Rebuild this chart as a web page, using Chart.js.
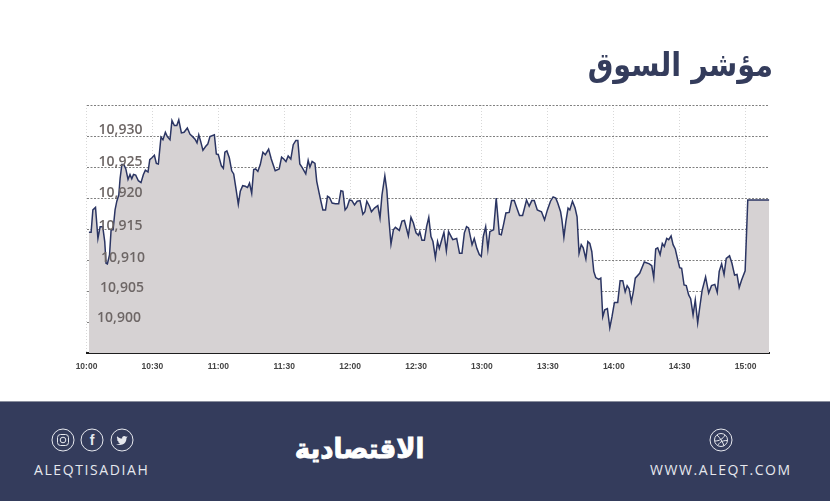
<!DOCTYPE html>
<html lang="ar"><head><meta charset="utf-8">
<script src="https://cdn.jsdelivr.net/npm/chart.js@4"></script>
<style>
html,body{margin:0;padding:0;background:#fff;}
#wrap{position:relative;width:830px;height:501px;overflow:hidden;background:#fff;}
canvas{position:absolute;left:0;top:0;}
#title{position:absolute;right:57px;top:45px;font:bold 33px "DejaVu Sans";color:#343c5c;direction:rtl;white-space:nowrap;transform:scaleX(.87);transform-origin:100% 50%;}
#foot{position:absolute;left:0;top:401px;width:830px;height:100px;background:#343c5c;border-top:1px solid #8a8f9e;box-sizing:border-box;}
.t{position:absolute;top:58px;color:#e6e8ee;font:14px "Open Sans";letter-spacing:1.6px;white-space:nowrap;}
#logo{position:absolute;left:295px;top:31px;width:130px;display:flex;justify-content:center;color:#fff;font:bold 27px "DejaVu Sans";direction:rtl;white-space:nowrap;-webkit-text-stroke:.9px #fff;}
#logo span{display:inline-block;transform:scaleX(.96);}
svg{position:absolute;top:26px;}
</style></head><body>
<div id="wrap">
<canvas id="c" width="830" height="501"></canvas>
<div id="title">مؤشر السوق</div>
<div id="foot">
<svg style="left:51px" width="24" height="24" viewBox="0 0 24 24" fill="none" stroke="#e6e8ee"><circle cx="12" cy="12" r="11"/><rect x="6.5" y="6.5" width="11" height="11" rx="3"/><circle cx="12" cy="12" r="2.8"/></svg>
<svg style="left:80px" width="24" height="24" viewBox="0 0 24 24" fill="none" stroke="#e6e8ee"><circle cx="12" cy="12" r="11"/><text x="12" y="17" text-anchor="middle" font-family="Liberation Sans" font-weight="bold" font-size="14" fill="#e6e8ee" stroke="none">f</text></svg>
<svg style="left:110px" width="24" height="24" viewBox="0 0 24 24" fill="none" stroke="#e6e8ee"><circle cx="12" cy="12" r="11"/><path d="M6 16c5 2.5 10.500 0 10.500-6l1.200-1.500-1.700.3c-1.200-1.800-4.500-.8-3.800 1.700-2 0-3.700-.9-5-2.300-.6 1.200-.3 2.400.8 3.300l-1-.2c0 1.200.8 2 2 2.400l-1 .1c.4.900 1.200 1.400 2.200 1.400-1 .8-2.500 1-4.200.8z" fill="#e6e8ee" stroke="none"/></svg>
<div class="t" style="left:34px">ALEQTISADIAH</div>
<div id="logo"><span>الاقتصادية</span></div>
<svg style="left:709px" width="24" height="24" viewBox="0 0 24 24" fill="none" stroke="#e6e8ee"><circle cx="12" cy="12" r="11"/><circle cx="12" cy="12" r="6.500"/><path d="M8 7c3 3 6 7 7 11M6 13c4 0 8-2 10-6M9 17.500c1-3 4-5 9-5"/></svg>
<div class="t" style="left:650px">WWW.ALEQT.COM</div>
</div>
</div>
<script>
const yTickLabels = ["10,930","10,925","10,920","10,915","10,910","10,905","10,900"];
const yTickValues = [10930,10925,10920,10915,10910,10905,10900];
const xTickLabels = ["10:00","10:30","11:00","11:30","12:00","12:30","13:00","13:30","14:00","14:30","15:00"];
const minutes = [1.1,2.1,2.9,4.1,5.2,6.2,7.4,8.3,8.9,9.5,10.5,11.2,12.1,13,13.8,14.7,15.3,16.1,17,17.9,18.9,19.8,20.6,21.4,22.4,23.6,24.8,25.9,26.8,28,28.8,29.8,30.9,31.8,32.7,33.9,34.8,35.9,36.8,38,38.9,40,41.1,42,43.2,44.4,45.9,47.1,48.3,49.4,50.3,51.1,52,53,54.2,55.2,56.2,58.2,59.1,60,61.4,62.3,63,63.9,65,66.1,67,68,69.1,70,71.1,72.3,73.3,74.2,75.2,76.1,77,78,79.1,80.3,81.4,82.9,84.1,85.9,87.7,88.8,89.8,90.8,91.8,93,94.1,95.3,96.2,97.1,98.2,99.8,100.9,101.7,102.7,104,104.8,105.9,
106.7,107.6,108.8,109.7,110.6,111.8,113.3,114.8,115.8,116.7,117.7,118.6,119.7,120.8,122,123.2,124.5,125.8,126.7,127.6,128.8,129.7,131.1,132.6,133.6,134.5,135.8,136.7,137.6,138.6,139.7,140.6,142.4,143.6,144.7,146.5,147.7,148.8,150,151.1,151.7,152.7,153.8,154.8,155.8,156.8,157.7,158.8,159.8,160.6,161.7,162.7,163.8,164.8,166.7,168.5,169.8,170.9,172,173,173.9,175.5,176.5,177.7,178.8,179.7,180.6,181.7,182.7,183.6,185.3,186.5,187.9,188.8,189.8,190.9,192.4,193.5,194.7,195.8,197.1,198.5,200.3,201.5,202.7,203.8,205.2,207.1,208.5,209.8,
211.2,212.4,213.6,214.5,215.8,216.4,217.3,218.2,219.2,220,221.2,222.4,223.3,224.2,225.2,226.1,227.3,228.2,229.1,230,230.9,231.8,233.2,234.1,235,235.9,237.1,238.2,239.2,240.3,241.8,242.9,244.1,245.2,246.1,247,248,248.9,249.8,251.8,253.9,256.2,257.3,258.2,259.1,260,261.1,262.1,263,264.1,265,266.1,267,268,269.1,270,270.9,272,273,274.1,275,276.1,277.1,278.2,279.1,280.2,281.8,283.2,284.5,286,287.1,288,289.1,290.2,291.2,292.7,293.8,295,296.1,297.1,298.2,299.8,301,310.8];
const indexValues = [10914.5,10914.5,10918.1,10918.5,10913.5,10915.4,10915.4,10913,10909.5,10909.4,10910.9,10914.9,10914.9,10918.1,10919.5,10920.5,10923.2,10925.4,10925.4,10924.7,10923,10923.8,10923.1,10923.8,10923.7,10922.8,10922.5,10923.8,10924.5,10924.2,10926.2,10926.5,10926.9,10925.6,10925.5,10929.8,10929.4,10930.6,10929.9,10929.4,10932.5,10931.7,10931.7,10932.6,10930.5,10930.6,10931.3,10930.3,10929.9,10929.5,10928.9,10930.2,10929.1,10927.7,10928.3,10928.7,10929.9,10930.2,10927.1,10927,10925.2,10924.8,10927.4,10927.6,10926.5,10924.4,10923.9,10921.6,10919,10921.1,10922,10921.9,10921.7,10922.4,10920.8,10924.6,10924.7,10924.3,10925.4,10927.4,10927,10927.9,10926.3,10924.4,10924.7,10926.6,10926.3,10925.9,10926.8,10926.3,10928.6,10929.3,10929.3,10925.5,10924.9,10923.9,10926.1,10925,10925.9,10925.6,10922.7,10920.8,
10919.5,10918.1,10918.1,10920.3,10920.1,10919.2,10919.1,10919.1,10921.2,10921.1,10918.1,10918.5,10919.7,10919.6,10918.9,10919.5,10919.6,10917.4,10917.8,10919.5,10918.7,10917.8,10918.4,10918.8,10916.8,10920.5,10923.6,10921.3,10916.8,10912.6,10914.9,10915.3,10914.8,10916.3,10916.4,10913.9,10916.9,10916,10914.4,10914,10914.6,10913.2,10913.2,10915.4,10916.9,10913.8,10913,10910.4,10913,10911.9,10913.3,10914.5,10911.5,10914.6,10913.3,10913.5,10911.1,10911.1,10914.4,10915.4,10915.2,10912.5,10913.5,10911.9,10910.9,10910.6,10913.8,10915.4,10911.8,10914.6,10914.9,10920,10914.2,10914.1,10915.7,10917.6,10917.7,10919.6,10919.6,10918.5,10917.2,10917.2,10919.7,10918.7,10919.6,10919.6,10918.1,10917.8,10916.5,10918.1,
10919.5,10920.2,10920,10919.2,10917.8,10916.5,10913.7,10916.2,10918.4,10918.1,10919.5,10918.4,10917,10911.1,10912.5,10912,10910.2,10913,10912.7,10911.4,10908.2,10907.2,10906.9,10907.1,10900.9,10902,10902.2,10899.1,10900.9,10903.2,10903.2,10906.7,10906.7,10904.9,10905.9,10905.4,10903.3,10904.9,10907.1,10907.9,10909.7,10909.4,10909.1,10907.2,10911.8,10912,10910.9,10912.7,10912.2,10913.5,10913.3,10913.9,10912.5,10911.8,10910.1,10908.8,10908.7,10906,10905.9,10904.4,10903.8,10901.2,10903.6,10899.9,10902.3,10905.1,10907.3,10904.7,10905.9,10906.1,10904.8,10908.2,10909.4,10907.7,10910.3,10910.7,10909.5,10907.6,10907.7,10905.6,10906.8,10908.3,10919.7,10919.7];

const yLabelNudge = [[0,-6],[0,-5],[0,-5],[0,-3],[2.5,-2],[1.5,-3],[-1.5,-4]];
const floatingLabels = {
  id:'floatingLabels',
  afterDatasetsDraw(chart){
    const {ctx,scales:{y},chartArea:a}=chart;
    ctx.save();
    ctx.font='600 14px "Open Sans"';
    ctx.fillStyle='#6d6665';
    ctx.textAlign='center';ctx.textBaseline='middle';
    yTickLabels.forEach((t,i)=>{
      ctx.fillText(t,a.left+34+yLabelNudge[i][0],y.getPixelForValue(yTickValues[i])+yLabelNudge[i][1]);
    });
    ctx.restore();
  }
};
new Chart(document.getElementById('c'),{
  type:'line',
  data:{datasets:[{
    data:minutes.map((m,i)=>({x:m,y:indexValues[i]})),
    borderColor:'#2b3563',borderWidth:1.5,pointRadius:0,tension:0,
    fill:'start',backgroundColor:'#d6d2d3'
  }]},
  options:{
    responsive:false,animation:false,
    layout:{padding:{left:86.5,right:60.7,top:105,bottom:125.7}},
    plugins:{legend:{display:false},tooltip:{enabled:false}},
    scales:{
      x:{type:'linear',min:0,max:310.8,
        afterFit(s){s.height=22;},
        grid:{color:'#d8d8d8',drawTicks:false,tickLength:0},
        border:{color:'#1a1a1a',width:2,dash:[1,2]},
        ticks:{stepSize:30,includeBounds:false,maxRotation:0,autoSkip:false,padding:8,color:'#444',
          font:{family:'"Liberation Sans"',size:8.5,weight:'bold'},
          callback(v){return xTickLabels[v/30];}}
      },
      y:{min:10895,max:10935,
        afterFit(s){s.width=0;},
        grid:{color:'#808080',drawTicks:false,tickLength:0},
        border:{display:false,dash:[2,1.5]},
        ticks:{stepSize:5,display:false}
      }
    }
  },
  plugins:[floatingLabels]
});
</script>
</body></html>
